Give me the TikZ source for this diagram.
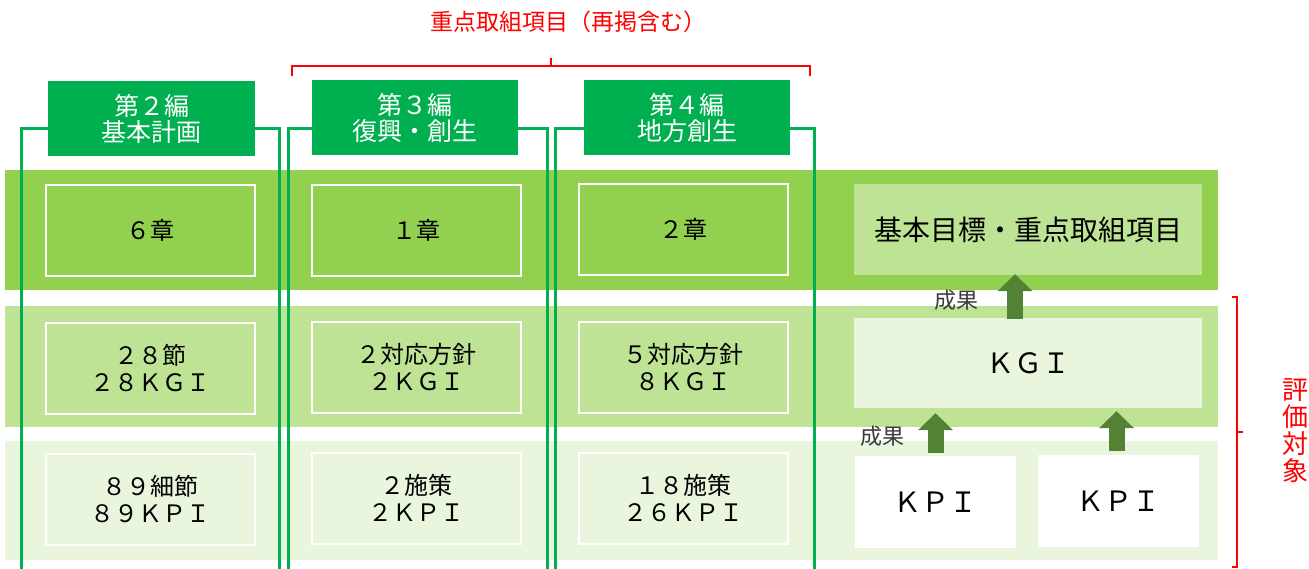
\documentclass[tikz,border=0pt]{standalone}
\usepackage{fontspec}
\setmainfont{Noto Sans CJK JP}
\usetikzlibrary{arrows.meta,calc}
\definecolor{hdrgreen}{HTML}{00B050}
\definecolor{bandA}{HTML}{92D050}
\definecolor{bandB}{HTML}{BEE395}
\definecolor{bandC}{HTML}{E9F5DC}
\definecolor{arrowgreen}{HTML}{548235}
\definecolor{redline}{HTML}{FF0000}
\definecolor{labelgray}{HTML}{3A3A3A}
\tikzset{
  band/.style={fill=#1, draw=none, minimum width=1213pt, inner sep=0pt, anchor=north west},
  hdr/.style={fill=hdrgreen, draw=none, text=white, minimum width=206pt, minimum height=75pt,
    inner sep=0pt, align=center, font=\fontsize{25}{26}\selectfont},
  cell/.style={draw=white, line width=2pt, minimum width=209pt, minimum height=91pt,
    inner sep=0pt, align=center, font=\fontsize{24}{26.5}\selectfont},
  rbox/.style={fill=#1, draw=none, inner sep=0pt, align=center, font=\fontsize{28}{30}\selectfont},
  brk/.style={draw=hdrgreen, line width=3pt},
  redbr/.style={draw=redline, line width=1.3pt},
  bigarrow/.style={draw=arrowgreen, line width=16pt, -{Triangle[width=34pt,length=17pt]}},
  seika/.style={text=labelgray, font=\fontsize{22}{24}\selectfont, inner sep=0pt},
}
\begin{document}
\begin{tikzpicture}[x=1pt,y=-1pt]
\useasboundingbox (0,0) rectangle (1309,569);
% bands
\node[band=bandA, minimum height=120pt] (b1) at (5,170) {};
\node[band=bandB, minimum height=121pt] (b2) at (5,306) {};
\node[band=bandC, minimum height=119pt] (b3) at (5,441) {};
% headers
\node[hdr, minimum width=207pt] (h1) at (151.5,118.5) {第２編\\基本計画};
\node[hdr] (h2) at (415,118) {第３編\\復興・創生};
\node[hdr] (h3) at (687,118) {第４編\\地方創生};
% cells
\node[cell] (c11) at (150.5,230.5) {６章};
\node[cell] (c21) at (416.5,230.5) {１章};
\node[cell] (c31) at (683.5,229.5) {２章};
\node[cell] (c12) at (150.5,368) {２８節\\２８ＫＧＩ};
\node[cell] (c22) at (416.5,367) {２対応方針\\２ＫＧＩ};
\node[cell] (c32) at (683.5,367) {５対応方針\\８ＫＧＩ};
\node[cell] (c13) at (150.5,499) {８９細節\\８９ＫＰＩ};
\node[cell] (c23) at (416.5,498) {２施策\\２ＫＰＩ};
\node[cell] (c33) at (683.5,498) {１８施策\\２６ＫＰＩ};
% bracket lines of the columns
\coordinate (l1) at (21,569); \coordinate (r1) at (279,569);
\coordinate (l2) at (288,569); \coordinate (r2) at (547,569);
\coordinate (l3) at (555,569); \coordinate (r3) at (814,569);
\draw[brk] ([yshift=-10.5pt]h1.west) -| (l1);
\draw[brk] ([yshift=-10.5pt]h1.east) -| (r1);
\draw[brk] ([yshift=-11pt]h2.west) -| (l2);
\draw[brk] ([yshift=-11pt]h2.east) -| (r2);
\draw[brk] ([yshift=-11pt]h3.west) -| (l3);
\draw[brk] ([yshift=-11pt]h3.east) -| (r3);
% right side
\node[rbox=bandB, minimum width=348pt, minimum height=91pt] (goal) at (1028,229.5) {基本目標・重点取組項目};
\node[rbox=bandC, minimum width=348pt, minimum height=90pt] (kgi) at (1028,363) {ＫＧＩ};
\node[rbox=white, minimum width=161pt, minimum height=92pt] (kpi1) at (935.5,502) {ＫＰＩ};
\node[rbox=white, minimum width=161pt, minimum height=92pt] (kpi2) at (1118.5,501) {ＫＰＩ};
\draw[bigarrow] ($(kgi.north)+(-13,1)$) -- ($(goal.south)+(-13,-1)$);
\draw[bigarrow] ($(kpi1.north)+(0,-3)$) -- ($(kpi1.north |- kgi.south)+(0,5)$);
\draw[bigarrow] ($(kpi2.north)+(-2,-4)$) -- ($(kpi2.north |- kgi.south)+(-2,3)$);
\node[seika] (s1) at (956,300) {成果};
\node[seika] (s2) at (882,436) {成果};
% red brackets and labels
\node[text=redline, font=\fontsize{23}{25}\selectfont, inner sep=0pt] (title) at (568,22) {重点取組項目（再掲含む）};
\draw[redbr] (292,76) -- (292,66) -- (810,66) -- (810,76);
\draw[redbr] (551,66) -- (551,58);
\draw[redbr] (1232,297) -- (1237,297) -- (1237,567) -- (1232,567);
\draw[redbr] (1237,432) -- (1243,432);
\node[text=redline, font=\fontsize{26}{27}\selectfont, align=center, inner sep=0pt] (eval) at (1295,431) {評\\価\\対\\象};
\end{tikzpicture}
\end{document}
